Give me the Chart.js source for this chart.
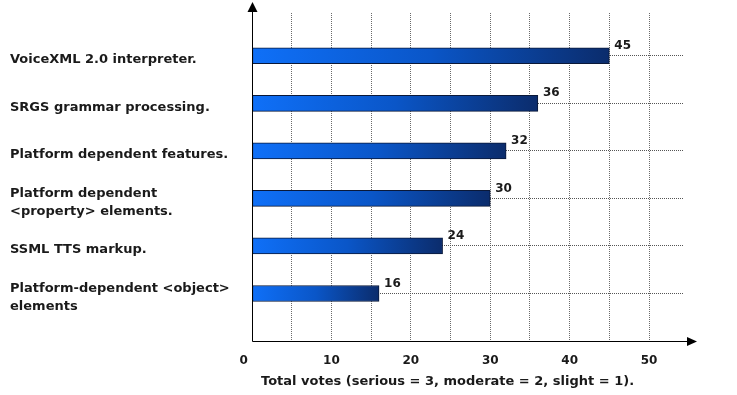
<!DOCTYPE html>
<html>
<head>
<meta charset="utf-8">
<script src="https://cdn.jsdelivr.net/npm/chart.js@4"></script>
<style>
  html, body { margin: 0; padding: 0; background: #fff; }
  #c { display: block; }
</style>
</head>
<body>
<canvas id="c" width="737" height="395"></canvas>
<script>
// ---- data ----
const categories = [
  "VoiceXML 2.0 interpreter.",
  "SRGS grammar processing.",
  "Platform dependent features.",
  ["Platform dependent", "<property> elements."],
  "SSML TTS markup.",
  ["Platform-dependent <object>", "elements"]
];
const votes = [45, 36, 32, 30, 24, 16];
const xTickLabels = [0, 10, 20, 30, 40, 50];
const xGridValues = [0, 5, 10, 15, 20, 25, 30, 35, 40, 45, 50];
const xTitle = "Total votes (serious = 3, moderate = 2, slight = 1).";

const FONT = "'DejaVu Sans', Verdana, sans-serif";

const barGradient = (ctx) => {
  const chart = ctx.chart;
  const xs = chart.scales && chart.scales.x;
  if (!chart.chartArea || !xs || ctx.dataIndex === undefined) return '#0a55c5';
  const x0 = xs.getPixelForValue(0);
  const x1 = xs.getPixelForValue(votes[ctx.dataIndex]);
  const g = chart.ctx.createLinearGradient(x0, 0, x1, 0);
  g.addColorStop(0, '#0f70f8');
  g.addColorStop(0.5, '#0a56c8');
  g.addColorStop(1, '#0b2c6c');
  return g;
};

const valueLabels = {
  id: 'valueLabels',
  afterDatasetsDraw(chart) {
    const c = chart.ctx;
    const meta = chart.getDatasetMeta(0);
    c.save();
    c.font = "bold 12px " + FONT;
    c.fillStyle = '#1a1a1a';
    c.textAlign = 'left';
    c.textBaseline = 'middle';
    meta.data.forEach((el, i) => {
      c.fillText(String(votes[i]), el.x + 5, el.y - 10);
    });
    c.restore();
  }
};

const arrowAxes = {
  id: 'arrowAxes',
  afterDatasetsDraw(chart) {
    const c = chart.ctx;
    const a = chart.chartArea;
    const x0 = Math.round(a.left) + 0.5;
    const yb = Math.round(a.bottom) + 0.5;
    c.save();
    c.strokeStyle = '#000';
    c.fillStyle = '#000';
    c.lineWidth = 1;
    c.beginPath();
    c.moveTo(x0, 11);
    c.lineTo(x0, yb);
    c.lineTo(a.right + 4, yb);
    c.stroke();
    // up arrow
    c.beginPath();
    c.moveTo(x0, 2);
    c.lineTo(x0 - 5, 12);
    c.lineTo(x0 + 5, 12);
    c.closePath();
    c.fill();
    // right arrow
    c.beginPath();
    c.moveTo(a.right + 13, yb);
    c.lineTo(a.right + 3, yb - 4.5);
    c.lineTo(a.right + 3, yb + 4.5);
    c.closePath();
    c.fill();
    c.restore();
  }
};

new Chart(document.getElementById('c'), {
  type: 'bar',
  data: {
    datasets: [{
      data: votes.map((v, i) => ({ x: v, y: i })),
      backgroundColor: barGradient,
      borderColor: '#0a1838',
      borderWidth: 1,
      borderSkipped: false,
      barThickness: 16
    }]
  },
  options: {
    indexAxis: 'y',
    responsive: false,
    animation: false,
    devicePixelRatio: 1,
    layout: { padding: { left: 10, top: 13, right: 53, bottom: 0 } },
    plugins: {
      legend: { display: false },
      tooltip: { enabled: false }
    },
    scales: {
      x: {
        type: 'linear',
        min: 0,
        max: 54.4,
        afterBuildTicks: (s) => { s.ticks = xGridValues.map(v => ({ value: v })); },
        afterFit: (s) => { s.height = 54; s.paddingLeft = 0; s.paddingRight = 0; },
        grid: {
          drawTicks: false,
          color: (ctx) => (ctx.tick && ctx.tick.value === 0) ? 'rgba(0,0,0,0)' : '#6a6a6a',
          lineWidth: 1
        },
        border: { display: false, dash: [1, 1] },
        ticks: {
          padding: 13,
          color: '#1a1a1a',
          font: { family: FONT, size: 12, weight: 'bold' },
          maxRotation: 0,
          autoSkip: false,
          callback: (v) => xTickLabels.includes(v) ? (v === 0 ? '0    ' : String(v)) : ''
        },
        title: {
          display: true,
          text: '  ' + xTitle,
          align: 'start',
          color: '#1a1a1a',
          font: { family: FONT, size: 13, weight: 'bold' },
          padding: { top: 0, bottom: 6 }
        }
      },
      y: {
        type: 'linear',
        reverse: true,
        offset: false,
        min: -0.9,
        max: 6,
        afterBuildTicks: (s) => { s.ticks = categories.map((_, i) => ({ value: i })); },
        afterFit: (s) => { s.width = 242; s.paddingTop = 0; s.paddingBottom = 0; },
        grid: {
          offset: false,
          drawTicks: false,
          color: '#555555',
          lineWidth: 1
        },
        border: { display: false, dash: [1, 1] },
        ticks: {
          crossAlign: 'far',
          labelOffset: 4,
          color: '#1a1a1a',
          autoSkip: false,
          font: { family: FONT, size: 13, weight: 'bold', lineHeight: 1.38 },
          callback: (v) => categories[v]
        }
      }
    }
  },
  plugins: [valueLabels, arrowAxes]
});
</script>
</body>
</html>
